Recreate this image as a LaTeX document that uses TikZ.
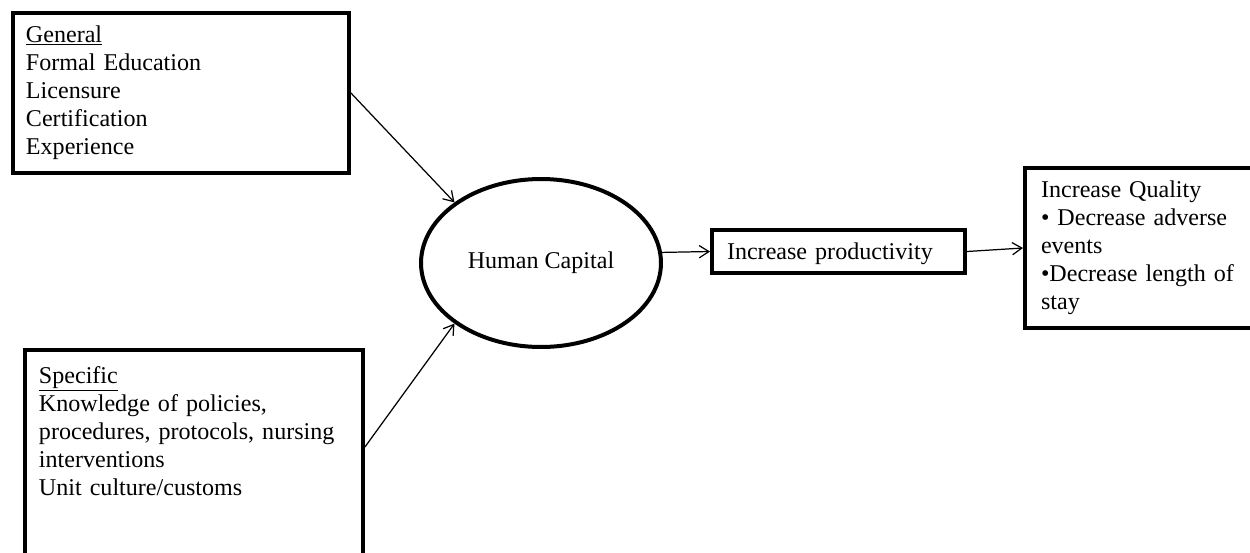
\documentclass[tikz,border=0pt]{standalone}
\usepackage{fontspec}
\setmainfont{Liberation Serif}
\usetikzlibrary{shapes.geometric, arrows.meta}

\begin{document}
\begin{tikzpicture}[x=0.02cm, y=-0.02cm,
    every node/.style={font=\fontsize{13.7}{16}\selectfont},
    box/.style={rectangle, draw, line width=0.08cm, align=left, inner ysep=0pt, anchor=north west},
    link/.style={-{Straight Barb[length=5.5pt, width=7pt]}, line width=0.7pt}]
    \useasboundingbox (0,0) rectangle (1250,552);

    % Human capital inputs
    \node[box, inner xsep=0.26cm, text width=6.2cm, text height=0.58cm, text depth=2.62cm] (gen) at (11,11)
        {\underline{General}\\Formal Education\\Licensure\\Certification\\Experience};
    \node[box, inner xsep=0.28cm, text width=6.2cm, text height=0.66cm, text depth=4.38cm] (spec) at (23,348)
        {\underline{Specific}\\Knowledge of policies,\\procedures, protocols, nursing\\interventions\\Unit culture/customs};

    \node[ellipse, draw, line width=0.08cm, minimum width=4.8cm, minimum height=3.36cm, inner sep=0pt] (hc) at (541,263) {Human Capital};

    % Outcomes
    \node[box, inner xsep=0.3cm, text width=4.46cm, text height=0.58cm, text depth=0.28cm] (prod) at (710,228) {Increase productivity};
    \node[box, inner xsep=0.32cm, text width=3.98cm, text height=0.58cm, text depth=2.62cm] (qual) at (1023,166)
        {Increase Quality\\• Decrease adverse\\events\\•Decrease length of\\stay};

    \draw[link] (gen.east) -- (hc.145);
    \draw[link] ([yshift=-1.98cm]spec.north east) -- (hc.215);
    \draw[link] (hc.5) -- (prod.west);
    \draw[link] (prod.east) -- (qual.west);
\end{tikzpicture}
\end{document}
